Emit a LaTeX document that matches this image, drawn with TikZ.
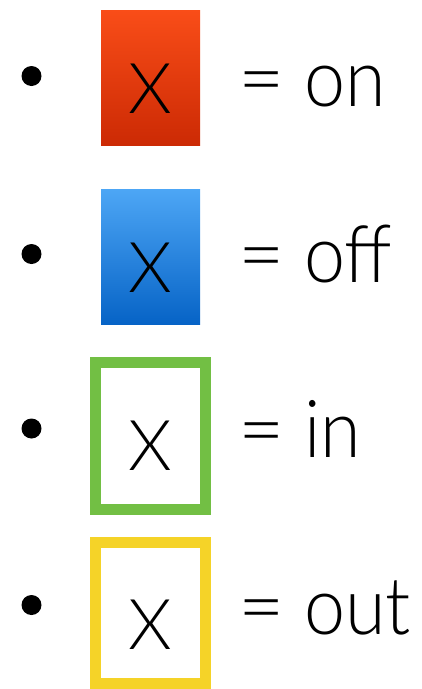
\documentclass[tikz,border=0pt]{standalone}
\usepackage{fontspec}
\setmainfont{Lato Light}
\newfontfamily\lblfont[FakeStretch=0.92]{Lato Light}
\definecolor{redtop}{HTML}{F94D18}
\definecolor{redbot}{HTML}{CC2A04}
\definecolor{bluetop}{HTML}{4DA6F5}
\definecolor{bluebot}{HTML}{0663C6}
\definecolor{ingreen}{HTML}{72BF44}
\definecolor{outyellow}{HTML}{F5D328}
\begin{document}
\begin{tikzpicture}[x=1pt,y=-1pt,
  bulletdot/.style={fill=black},
  xmark/.style={inner sep=0pt, anchor=base, font=\fontsize{70}{70}\selectfont},
  eqsign/.style={inner sep=0pt, anchor=base west, font=\fontsize{80}{80}\selectfont},
  lbl/.style={inner sep=0pt, anchor=base west, font=\lblfont\fontsize{80}{80}\selectfont},
  outlinebox/.style={line width=11pt}]
\useasboundingbox (0,0) rectangle (422,689);
% row 1: on
\fill[bulletdot] (31.5,76) circle (10);
\shade[top color=redtop, bottom color=redbot] (101,10) rectangle (200,145.5);
\node[xmark] (x1) at (150.5,113) {X};
\node[eqsign] (e1) at (238,106) {=};
\node[lbl] (l1) at (304,106) {on};
% row 2: off
\fill[bulletdot] (31.5,254) circle (10);
\shade[top color=bluetop, bottom color=bluebot] (101,189) rectangle (200,324.5);
\node[xmark] (x2) at (150.5,292) {X};
\node[eqsign] (e2) at (238,282) {=};
\node[lbl] (l2) at (304,282) {off};
% row 3: in
\fill[bulletdot] (31.5,428.5) circle (10);
\draw[outlinebox, draw=ingreen] (95.7,362.8) rectangle (205.5,509);
\node[xmark] (x3) at (150.5,470.5) {X};
\node[eqsign] (e3) at (238,457) {=};
\node[lbl] (l3) at (304,457) {in};
% row 4: out
\fill[bulletdot] (31.5,605) circle (10);
\draw[outlinebox, draw=outyellow] (95.7,542) rectangle (205.5,683.5);
\node[xmark] (x4) at (150.5,649) {X};
\node[eqsign] (e4) at (238,634) {=};
\node[lbl] (l4) at (304,634) {out};
\end{tikzpicture}
\end{document}
